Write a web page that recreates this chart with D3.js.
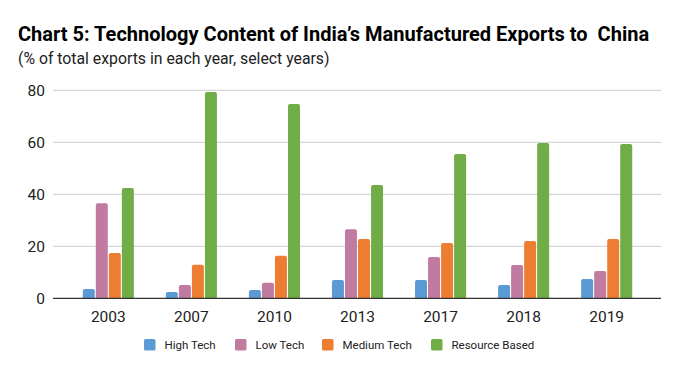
<!DOCTYPE html>
<html>
<head>
<meta charset="utf-8">
<script src="https://cdn.jsdelivr.net/npm/d3@7"></script>
<style>
  body { margin:0; background:#fff; }
  svg { font-family: Roboto, sans-serif; }
  .title { white-space: pre; }
</style>
</head>
<body>
<svg id="chart" width="680" height="371"></svg>
<script>
// data
var years = ["2003","2007","2010","2013","2017","2018","2019"];
var seriesNames = ["High Tech","Low Tech","Medium Tech","Resource Based"];
var highTech = [3.6, 2.4, 3.2, 7.0, 7.0, 5.1, 7.4];
var lowTech = [36.6, 5.1, 6.0, 26.6, 15.9, 12.8, 10.5];
var mediumTech = [17.4, 12.9, 16.4, 22.8, 21.3, 22.0, 22.8];
var resourceBased = [42.4, 79.3, 74.7, 43.6, 55.5, 59.7, 59.3];
var yTicks = [0, 20, 40, 60, 80];
var colors = ["#5b9bd5", "#c27ba0", "#ed7d31", "#70ad47"];

var allSeries = [highTech, lowTech, mediumTech, resourceBased];

var svg = d3.select("#chart");

svg.append("text")
  .attr("class", "title")
  .attr("x", 18).attr("y", 41)
  .style("font-size", "20px").style("font-weight", "bold").attr("fill", "#000")
  .text("Chart 5: Technology Content of India\u2019s Manufactured Exports to  China");
svg.append("text")
  .attr("x", 18).attr("y", 64)
  .style("font-size", "15.8px").attr("fill", "#222")
  .text("(% of total exports in each year, select years)");

var plotLeft = 53, plotRight = 661;
var x = d3.scaleBand().domain(years).range([67, 648]).paddingInner(0.385).paddingOuter(0.19);
var x1 = d3.scaleBand().domain(seriesNames).range([0, x.bandwidth()]).paddingInner(0.08);
var y = d3.scaleLinear().domain([0, 80]).range([298.3, 90.3]);

// gridlines
svg.append("g").selectAll("line")
  .data(yTicks.filter(function(t){ return t > 0; }))
  .enter().append("line")
  .attr("x1", plotLeft).attr("x2", plotRight)
  .attr("y1", function(d){ return y(d); }).attr("y2", function(d){ return y(d); })
  .attr("stroke", "#cccccc").attr("stroke-width", 1);

// y labels
svg.append("g").selectAll("text")
  .data(yTicks).enter().append("text")
  .attr("x", 45).attr("y", function(d){ return y(d); })
  .attr("dy", "0.36em").attr("text-anchor", "end")
  .style("font-size", "15.5px").attr("fill", "#222")
  .text(function(d){ return d; });

function barPath(x0, w, top, bottom) {
  var r = Math.min(2, (bottom - top));
  return "M" + x0 + "," + bottom +
    "V" + (top + r) +
    "Q" + x0 + "," + top + " " + (x0 + r) + "," + top +
    "H" + (x0 + w - r) +
    "Q" + (x0 + w) + "," + top + " " + (x0 + w) + "," + (top + r) +
    "V" + bottom + "Z";
}

var groups = svg.append("g").selectAll("g")
  .data(years).enter().append("g")
  .attr("transform", function(d){ return "translate(" + x(d) + ",0)"; });

groups.selectAll("path")
  .data(function(d, i){ return seriesNames.map(function(s, j){ return {s: s, j: j, v: allSeries[j][i]}; }); })
  .enter().append("path")
  .attr("d", function(d){ return barPath(x1(d.s), x1.bandwidth(), y(d.v), y(0)); })
  .attr("fill", function(d){ return colors[d.j]; });

// baseline
svg.append("line")
  .attr("x1", plotLeft).attr("x2", plotRight)
  .attr("y1", y(0)).attr("y2", y(0))
  .attr("stroke", "#333").attr("stroke-width", 1.3);

// x labels
svg.append("g").selectAll("text")
  .data(years).enter().append("text")
  .attr("x", function(d){ return x(d) + x.bandwidth() / 2; })
  .attr("y", 322)
  .attr("text-anchor", "middle")
  .style("font-size", "15.5px").attr("fill", "#222")
  .text(function(d){ return d; });

// legend
var legendX = [144, 235, 322, 431];
var legend = svg.append("g").selectAll("g")
  .data(seriesNames).enter().append("g")
  .attr("transform", function(d, i){ return "translate(" + legendX[i] + ",339)"; });
legend.append("rect")
  .attr("width", 11.5).attr("height", 11.5).attr("rx", 1.5)
  .attr("fill", function(d, i){ return colors[i]; });
legend.append("text")
  .attr("x", 20.5).attr("y", 6).attr("dy", "0.35em")
  .style("font-size", "11.5px").attr("fill", "#222")
  .text(function(d){ return d; });
</script>
</body>
</html>
